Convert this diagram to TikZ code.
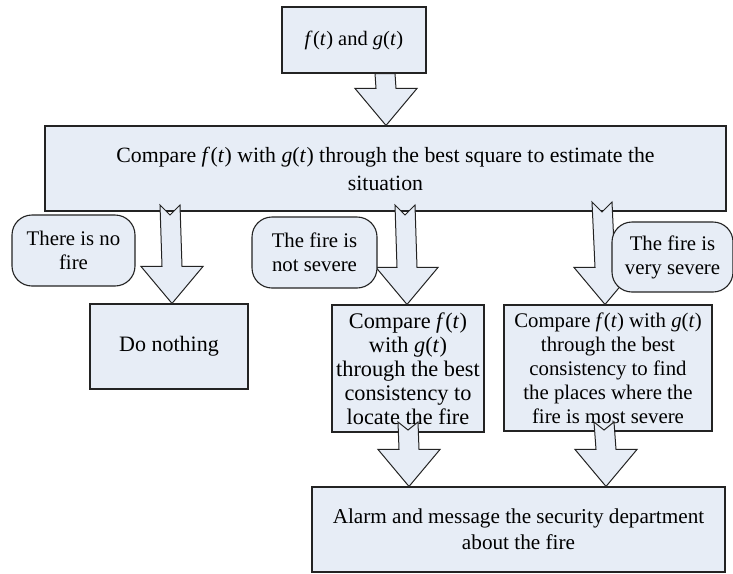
\documentclass[tikz,border=0pt]{standalone}
\usepackage{fontspec}
\setmainfont{Liberation Serif}
\usetikzlibrary{calc}
\definecolor{boxfill}{RGB}{231,237,246}
\definecolor{boxline}{RGB}{35,35,35}
\newcommand\fx{\textit{f}\kern0.3pt(\textit{t}\kern0.3pt)}
\newcommand\gx{\textit{g}(\textit{t}\kern0.3pt)}
\newcommand\fs[2]{\fontsize{#1}{#2}\selectfont}
% #1 top centre, #2 tip, #3 notch depth
\newcommand\blockarrow[3]{%
  \draw[arrowshape] ($(#1)+(-10,0)$) -- ($(#1)+(0,#3)$) -- ($(#1)+(10,0)$)
    -- ($(#2)+(10,-37)$) -- ($(#2)+(31,-37)$) -- (#2)
    -- ($(#2)+(-31,-37)$) -- ($(#2)+(-10,-37)$) -- cycle;}
\begin{document}
\begin{tikzpicture}[x=1pt,y=-1pt,
  box/.style={draw=boxline,fill=boxfill,line width=1.1pt,align=center,inner sep=0pt},
  bubble/.style={box,rounded corners=20pt,font=\fs{20.8}{24}},
  arrowshape/.style={draw=boxline,fill=boxfill,line width=1pt,line join=miter}]
\useasboundingbox (0,0) rectangle (733,573);
\node[box,minimum width=144pt,minimum height=66pt,font=\fs{20.5}{24}] (top) at (354,40) {\fx{} and \gx};
\node[box,minimum width=681pt,minimum height=85pt,font=\fs{21.8}{28}] (main) at (385.5,168.5)
  {Compare \fx{} with \gx{} through the best square to estimate the\\situation};
\node[box,minimum width=158pt,minimum height=85pt,font=\fs{22}{24}] (do) at (169,346.5) {Do nothing};
\node[box,minimum width=152pt,minimum height=127pt,font=\fs{22.3}{24}] (loc) at (408,368.5)
  {Compare \fx\\with \gx\\through the best\\consistency to\\locate the fire};
\node[box,minimum width=208pt,minimum height=126pt,font=\fs{20.8}{24}] (find) at (608,368)
  {Compare \textit{f}(\textit{t}) with \textit{g}(\textit{t})\\through the best\\consistency to find\\the places where the\\fire is most severe};
\node[box,minimum width=413pt,minimum height=85pt,font=\fs{21.2}{26}] (alarm) at (518.5,529.5)
  {Alarm and message the security department\\about the fire};
% block arrows
\blockarrow{385,0 |- top.south}{386,0 |- main.north}{0}
\blockarrow{170,205}{172,0 |- do.north}{10}
\blockarrow{405,205}{407,0 |- loc.north}{10}
\blockarrow{602,202}{605,0 |- find.north}{10}
\blockarrow{408,422}{409,0 |- alarm.north}{8}
\blockarrow{604,422}{606,0 |- alarm.north}{8}
% bubbles
\node[bubble,minimum width=123pt,minimum height=71pt] (no) at (73.5,250.5) {There is no\\fire};
\node[bubble,minimum width=125pt,minimum height=71pt] (not) at (314.5,252.5) {The fire is\\not severe};
\node[bubble,minimum width=121pt,minimum height=70pt] (very) at (672.5,257) {The fire is\\very severe};
\end{tikzpicture}
\end{document}
